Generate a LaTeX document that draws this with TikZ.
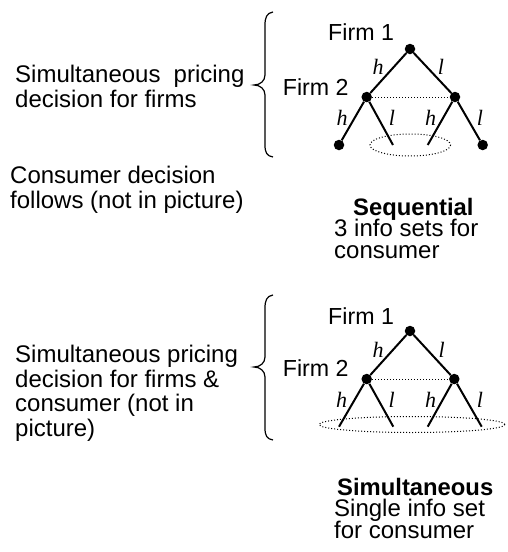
\documentclass[tikz,border=0pt]{standalone}
\usepackage{fontspec}
\setmainfont{Liberation Sans}
\newfontfamily\labelfont{Liberation Serif}
\begin{document}
\begin{tikzpicture}[x=1pt,y=-1pt,
  txt/.style={anchor=base west,inner sep=0pt,font=\fontsize{24}{25}\selectfont},
  firm/.style={anchor=base west,inner sep=0pt,font=\fontsize{23.2}{24}\selectfont},
  ttl/.style={anchor=base west,inner sep=0pt,font=\fontsize{23.8}{25}\selectfont\bfseries},
  mv/.style={anchor=base,inner sep=0pt,font=\fontsize{22}{23}\selectfont\labelfont\itshape},
  dot/.style={circle,fill=black,inner sep=0pt,minimum size=10.5pt},
  edge/.style={line width=2pt},
  infoset/.style={line width=1pt,dotted},
  bracket/.style={line width=1.2pt}]
\useasboundingbox (0,0) rectangle (507,552);

% ---------- Sequential game ----------
\node[txt] (sa1) at (15,82.3) {Simultaneous\hspace{6.5pt} pricing};
\node[txt] (sa2) at (15,107.3) {decision for firms};
\node[txt] (sc1) at (10,183.5) {Consumer decision};
\node[txt] (sc2) at (10,208.3) {follows (not in picture)};

\draw[bracket] (273,12) .. controls (267,13) and (265,17) .. (265,25) -- (265,75)
  .. controls (265,81) and (260,85) .. (254,85)
  .. controls (260,85) and (265,89) .. (265,95) -- (265,145)
  .. controls (265,153) and (267,156) .. (273,157);

\node[dot] (r1) at (410,49) {};
\node[dot] (a1) at (366.7,97) {};
\node[dot] (b1) at (455,97) {};
\node[dot] (a1h) at (339,145) {};
\coordinate (a1l) at (393,145);
\coordinate (b1h) at (427.7,145);
\node[dot] (b1l) at (482.7,145) {};

\draw[edge] (r1) -- (a1);
\draw[edge] (r1) -- (b1);
\draw[edge] (a1) -- (a1h);
\draw[edge] (a1) -- (a1l);
\draw[edge] (b1) -- (b1h);
\draw[edge] (b1) -- (b1l);
\draw[infoset] (a1) -- (b1);
\draw[infoset] (410.3,145) ellipse [x radius=40.3, y radius=11];

\node[firm] (f11) at (328,40.7) {Firm 1};
\node[firm] (f12) at (282.7,95) {Firm 2};
\node[mv] (m1) at (378,74) {h};
\node[mv] (m2) at (441,74) {l};
\node[mv] (m3) at (342,125) {h};
\node[mv] (m4) at (392,125) {l};
\node[mv] (m5) at (430.5,125) {h};
\node[mv] (m6) at (480,125) {l};

\node[ttl] (seq) at (353,215) {Sequential};
\node[txt] (sq1) at (334,236.5) {3 info sets for};
\node[txt] (sq2) at (334,258.5) {consumer};

% ---------- Simultaneous game ----------
\node[txt] (ta1) at (15,362.3) {Simultaneous pricing};
\node[txt] (ta2) at (15,387) {decision for firms \&};
\node[txt] (ta3) at (15,411.5) {consumer (not in};
\node[txt] (ta4) at (15,436) {picture)};

\draw[bracket] (273,295) .. controls (267,296) and (265,300) .. (265,308) -- (265,357)
  .. controls (265,363) and (260,367) .. (254,367)
  .. controls (260,367) and (265,371) .. (265,377) -- (265,428)
  .. controls (265,436) and (267,439) .. (273,440);

\node[dot] (r2) at (410,331) {};
\node[dot] (a2) at (366.7,379) {};
\node[dot] (b2) at (454.3,379) {};
\coordinate (a2h) at (339,426.7);
\coordinate (a2l) at (393.3,426.7);
\coordinate (b2h) at (427.7,426.7);
\coordinate (b2l) at (481.7,426.7);

\draw[edge] (r2) -- (a2);
\draw[edge] (r2) -- (b2);
\draw[edge] (a2) -- (a2h);
\draw[edge] (a2) -- (a2l);
\draw[edge] (b2) -- (b2h);
\draw[edge] (b2) -- (b2l);
\draw[infoset] (a2) -- (b2);
\draw[infoset] (412,424.5) ellipse [x radius=93, y radius=8];

\node[firm] (f21) at (328,324) {Firm 1};
\node[firm] (f22) at (282.7,376) {Firm 2};
\node[mv] (n1) at (378,357.3) {h};
\node[mv] (n2) at (441.7,357.3) {l};
\node[mv] (n3) at (341.7,407.3) {h};
\node[mv] (n4) at (391.7,407.3) {l};
\node[mv] (n5) at (430.5,407.3) {h};
\node[mv] (n6) at (480,407.3) {l};

\node[ttl] (sim) at (337,495) {Simultaneous};
\node[txt] (si1) at (334,516.7) {Single info set};
\node[txt] (si2) at (334,538) {for consumer};
\end{tikzpicture}
\end{document}
